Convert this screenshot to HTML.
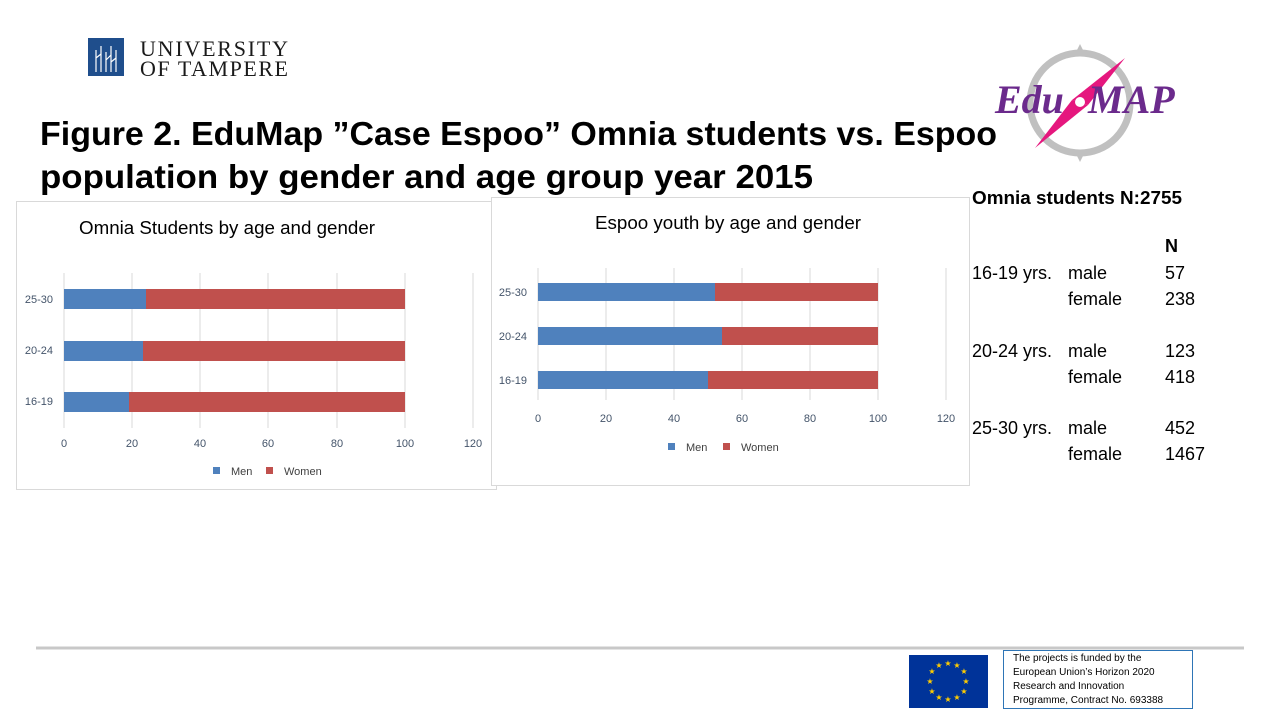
<!DOCTYPE html>
<html><head><meta charset="utf-8"><style>body{margin:0;background:#fff}svg{display:block}</style></head><body>
<svg width="1280" height="720" viewBox="0 0 1280 720" xmlns="http://www.w3.org/2000/svg" font-family="Liberation Sans, sans-serif">
<rect width="1280" height="720" fill="#fff"/>
<!-- UT logo -->
<rect x="88" y="38" width="36" height="38" fill="#1f4e8c"/>
<g stroke="#fff" stroke-width="1.2" fill="none"><path d="M96 72V50M101 72V46M106 72V52M111 72V46M116 72V50M96 58l5-4M106 60l5-5M111 62l5-4"/></g>
<text x="140" y="56" font-family="Liberation Serif, serif" font-size="22" fill="#1a1a1a" textLength="148">UNIVERSITY</text>
<text x="140" y="76" font-family="Liberation Serif, serif" font-size="22" fill="#1a1a1a" textLength="148">OF TAMPERE</text>
<!-- EduMAP logo -->
<circle cx="1080" cy="103" r="50" fill="none" stroke="#c0c0c0" stroke-width="7"/>
<polygon points="1080,44 1074,56 1086,56" fill="#c0c0c0"/>
<polygon points="1080,162 1074,150 1086,150" fill="#c0c0c0"/>
<polygon points="1125,58 1088,105 1072,100" fill="#e5177e"/>
<polygon points="1035,148 1072,100 1088,105" fill="#e5177e"/>
<text x="995" y="113" font-family="Liberation Serif, serif" font-style="italic" font-weight="bold" font-size="40" fill="#6b2a8c">Edu</text>
<circle cx="1080" cy="102" r="5" fill="#fff"/>
<text x="1088" y="113" font-family="Liberation Serif, serif" font-style="italic" font-weight="bold" font-size="40" fill="#6b2a8c">MAP</text>
<!-- Title -->
<text x="40" y="145" font-weight="bold" font-size="33" fill="#000" textLength="957" lengthAdjust="spacingAndGlyphs">Figure 2. EduMap ”Case Espoo” Omnia students vs. Espoo</text>
<text x="40" y="188" font-weight="bold" font-size="33" fill="#000" textLength="773" lengthAdjust="spacingAndGlyphs">population by gender and age group year 2015</text>
<!-- Chart 1 -->
<rect x="16.5" y="201.5" width="480" height="288" fill="#fff" stroke="#d9d9d9"/>
<text x="79" y="234" font-size="18" fill="#000" textLength="296" lengthAdjust="spacingAndGlyphs">Omnia Students by age and gender</text>
<g stroke="#d9d9d9"><line x1="64" y1="273" x2="64" y2="428"/><line x1="132" y1="273" x2="132" y2="428"/><line x1="200" y1="273" x2="200" y2="428"/><line x1="268" y1="273" x2="268" y2="428"/><line x1="337" y1="273" x2="337" y2="428"/><line x1="405" y1="273" x2="405" y2="428"/><line x1="473" y1="273" x2="473" y2="428"/></g>
<rect x="64" y="289" width="82" height="20" fill="#4f81bd"/><rect x="146" y="289" width="259" height="20" fill="#c0504d"/>
<rect x="64" y="341" width="79" height="20" fill="#4f81bd"/><rect x="143" y="341" width="262" height="20" fill="#c0504d"/>
<rect x="64" y="392" width="65" height="20" fill="#4f81bd"/><rect x="129" y="392" width="276" height="20" fill="#c0504d"/>
<g font-size="11" fill="#44546a" text-anchor="end"><text x="53" y="303">25-30</text><text x="53" y="354">20-24</text><text x="53" y="405">16-19</text></g>
<g font-size="11" fill="#44546a" text-anchor="middle"><text x="64" y="447">0</text><text x="132" y="447">20</text><text x="200" y="447">40</text><text x="268" y="447">60</text><text x="337" y="447">80</text><text x="405" y="447">100</text><text x="473" y="447">120</text></g>
<rect x="213" y="467" width="7" height="7" fill="#4f81bd"/><text x="231" y="475" font-size="11" fill="#404040">Men</text>
<rect x="266" y="467" width="7" height="7" fill="#c0504d"/><text x="284" y="475" font-size="11" fill="#404040">Women</text>
<!-- Chart 2 -->
<rect x="491.5" y="197.5" width="478" height="288" fill="#fff" stroke="#d9d9d9"/>
<text x="595" y="229" font-size="18" fill="#000" textLength="266" lengthAdjust="spacingAndGlyphs">Espoo youth by age and gender</text>
<g stroke="#d9d9d9"><line x1="538" y1="268" x2="538" y2="400"/><line x1="606" y1="268" x2="606" y2="400"/><line x1="674" y1="268" x2="674" y2="400"/><line x1="742" y1="268" x2="742" y2="400"/><line x1="810" y1="268" x2="810" y2="400"/><line x1="878" y1="268" x2="878" y2="400"/><line x1="946" y1="268" x2="946" y2="400"/></g>
<rect x="538" y="283" width="177" height="18" fill="#4f81bd"/><rect x="715" y="283" width="163" height="18" fill="#c0504d"/>
<rect x="538" y="327" width="184" height="18" fill="#4f81bd"/><rect x="722" y="327" width="156" height="18" fill="#c0504d"/>
<rect x="538" y="371" width="170" height="18" fill="#4f81bd"/><rect x="708" y="371" width="170" height="18" fill="#c0504d"/>
<g font-size="11" fill="#44546a" text-anchor="end"><text x="527" y="296">25-30</text><text x="527" y="340">20-24</text><text x="527" y="384">16-19</text></g>
<g font-size="11" fill="#44546a" text-anchor="middle"><text x="538" y="422">0</text><text x="606" y="422">20</text><text x="674" y="422">40</text><text x="742" y="422">60</text><text x="810" y="422">80</text><text x="878" y="422">100</text><text x="946" y="422">120</text></g>
<rect x="668" y="443" width="7" height="7" fill="#4f81bd"/><text x="686" y="451" font-size="11" fill="#404040">Men</text>
<rect x="723" y="443" width="7" height="7" fill="#c0504d"/><text x="741" y="451" font-size="11" fill="#404040">Women</text>
<!-- Right table -->
<text x="972" y="204" font-weight="bold" font-size="18" fill="#000" textLength="210" lengthAdjust="spacingAndGlyphs">Omnia students N:2755</text>
<g font-size="18" fill="#000">
<text x="1165" y="252" font-weight="bold">N</text>
<text x="972" y="279">16-19 yrs.</text><text x="1068" y="279">male</text><text x="1165" y="279">57</text>
<text x="1068" y="305">female</text><text x="1165" y="305">238</text>
<text x="972" y="357">20-24 yrs.</text><text x="1068" y="357">male</text><text x="1165" y="357">123</text>
<text x="1068" y="383">female</text><text x="1165" y="383">418</text>
<text x="972" y="434">25-30 yrs.</text><text x="1068" y="434">male</text><text x="1165" y="434">452</text>
<text x="1068" y="460">female</text><text x="1165" y="460">1467</text>
</g>
<!-- Footer -->
<line x1="36" y1="648" x2="1244" y2="648" stroke="#c8c8c8" stroke-width="3"/>
<rect x="909" y="655" width="79" height="53" fill="#003399"/>
<g fill="#ffcc00" font-size="8" text-anchor="middle">
<text x="948" y="666">★</text><text x="957" y="668">★</text><text x="964" y="674">★</text><text x="966" y="684">★</text><text x="964" y="694">★</text><text x="957" y="700">★</text><text x="948" y="702">★</text><text x="939" y="700">★</text><text x="932" y="694">★</text><text x="930" y="684">★</text><text x="932" y="674">★</text><text x="939" y="668">★</text>
</g>
<rect x="1003.5" y="650.5" width="189" height="58" fill="#fff" stroke="#2e75b6"/>
<g font-size="10" fill="#000"><text x="1013" y="661">The projects is funded by the</text><text x="1013" y="675">European Union’s Horizon 2020</text><text x="1013" y="689">Research and Innovation</text><text x="1013" y="703">Programme, Contract No. 693388</text></g>
</svg>
</body></html>
